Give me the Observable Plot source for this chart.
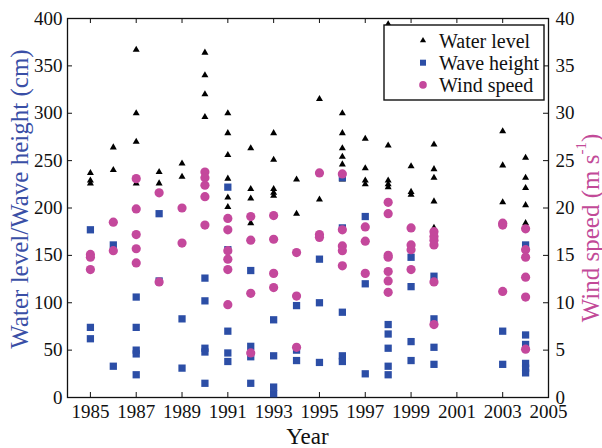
<!DOCTYPE html>
<html>
<head>
<meta charset="utf-8">
<script src="https://cdn.jsdelivr.net/npm/d3@7"></script>
<script src="https://cdn.jsdelivr.net/npm/@observablehq/plot@0.6"></script>
<style>
  body { margin: 0; background: #fff; }
</style>
</head>
<body>
<div id="chart"></div>
<script>
// Observation years and the storm-event values recorded in each year
const years = [1985, 1986, 1987, 1988, 1989, 1990, 1991, 1992, 1993, 1994,
               1995, 1996, 1997, 1998, 1999, 2000, 2003, 2004];

// Water level (cm)
const waterLevel = [
  [237, 229, 226],
  [264, 240],
  [367, 300, 270, 226],
  [238, 226],
  [247, 233],
  [364, 340, 320, 296],
  [300, 279, 256, 231, 211, 201],
  [263, 220, 210, 184],
  [279, 251, 220, 216, 213],
  [230, 194],
  [315, 209],
  [300, 279, 263, 254, 246, 236, 230],
  [273, 242, 229, 225],
  [394, 266, 229, 225, 222],
  [244, 217, 214],
  [267, 241, 232, 207, 179],
  [281, 245, 206],
  [253, 232, 221, 203, 184]
];

// Wave height (cm)
const waveHeight = [
  [177, 74, 62],
  [161, 33],
  [106, 74, 50, 46, 24],
  [194, 123],
  [83, 31],
  [126, 102, 52, 48, 15],
  [222, 156, 70, 47, 38],
  [134, 54, 43, 15],
  [82, 44, 11, 4],
  [97, 50, 39],
  [146, 100, 37],
  [232, 179, 90, 44, 38],
  [191, 120, 25],
  [77, 67, 52, 33, 24],
  [148, 117, 59, 39],
  [128, 83, 53, 35],
  [70, 35],
  [161, 66, 56, 36, 31, 26]
];

// Wind speed (m/s)
const windSpeed = [
  [15.1, 14.8, 13.5],
  [18.5, 15.5],
  [23.1, 19.9, 17.2, 15.7, 14.2],
  [21.6, 12.2],
  [20.0, 16.3],
  [23.8, 23.2, 22.4, 21.2, 18.2],
  [18.9, 17.7, 15.5, 14.6, 13.5, 9.8],
  [19.1, 16.6, 11.0, 4.7],
  [19.2, 16.7, 13.1, 11.6],
  [15.3, 10.7, 5.3],
  [23.7, 17.2, 16.9],
  [23.6, 17.7, 16.0, 15.5, 13.9],
  [18.0, 16.5, 13.1],
  [20.6, 19.4, 15.0, 14.8, 13.3, 12.3, 11.1],
  [17.9, 16.1, 15.6, 13.5],
  [17.5, 17.0, 16.6, 16.1, 12.2, 7.7],
  [18.4, 18.2, 11.2],
  [17.8, 15.6, 14.8, 12.7, 10.6, 5.1]
];

// Axis ticks
const xDomain = [1984, 2005];
const xTicks = d3.range(1985, 2006, 2);
const leftTicks = d3.range(0, 401, 50);     // cm
const rightTicks = d3.range(0, 41, 5);      // m/s
const leftMax = 400, rightMax = 40;
const windToLeft = leftMax / rightMax;      // wind values share the left scale

const legendItems = ["Water level", "Wave height", "Wind speed"];

const SERIF = '"Liberation Serif", "Times New Roman", Times, serif';
const BLUE = "#2c4ea6";
const MAGENTA = "#c4489c";
const LABEL_BLUE = "#3a4fa6";
const LABEL_MAGENTA = "#c24a98";

function rows(series, factor = 1) {
  return years.flatMap((year, i) => series[i].map(v => ({year, value: v * factor})));
}

const W = 602, H = 448;
const margin = {top: 18, right: 54, bottom: 51, left: 67};
const plotW = W - margin.left - margin.right;
const plotH = H - margin.top - margin.bottom;
const tickLen = 5;

// symbol sizes in px (Plot's r gives area π r²)
const triR = 2.6, sqR = 4.1, circR = 4.6;

const chart = Plot.plot({
  width: W,
  height: H,
  marginTop: margin.top,
  marginRight: margin.right,
  marginBottom: margin.bottom,
  marginLeft: margin.left,
  style: {fontSize: "19px", color: "#111", background: "#fff", overflow: "visible"},
  x: {domain: xDomain},
  y: {domain: [0, leftMax]},
  marks: [
    Plot.axisX(xTicks, {tickSize: 0, tickPadding: 7, tickFormat: d => String(d), label: null, fontSize: 19}),
    Plot.axisY(leftTicks, {anchor: "left", tickSize: 0, tickPadding: 5, label: null, fontSize: 19}),
    Plot.axisY(leftTicks, {anchor: "right", tickSize: 0, tickPadding: 7, label: null, fontSize: 19,
                           tickFormat: d => String(rightTicks[leftTicks.indexOf(d)])}),
    // inward tick marks on all four sides of the box
    Plot.tickX(xTicks, {x: d => d, insetTop: plotH - tickLen, stroke: "#111"}),
    Plot.tickX(xTicks, {x: d => d, insetBottom: plotH - tickLen, stroke: "#111"}),
    Plot.tickY(leftTicks, {y: d => d, insetRight: plotW - tickLen, stroke: "#111"}),
    Plot.tickY(leftTicks, {y: d => d, insetLeft: plotW - tickLen, stroke: "#111"}),
    Plot.frame({stroke: "#111", strokeWidth: 1.3}),
    Plot.dot(rows(waterLevel), {x: "year", y: "value", symbol: "triangle", r: triR, fill: "#000", stroke: null}),
    Plot.dot(rows(waveHeight), {x: "year", y: "value", symbol: "square", r: sqR, fill: BLUE, stroke: null}),
    Plot.dot(rows(windSpeed, windToLeft), {x: "year", y: "value", symbol: "circle", r: circR, fill: MAGENTA, stroke: null})
  ]
});

document.getElementById("chart").appendChild(chart);

const svg = d3.select(chart).attr("font-family", SERIF).style("font-family", SERIF);

// Axis titles
svg.append("text")
  .attr("transform", `translate(19,199) rotate(-90)`)
  .attr("text-anchor", "middle").attr("dominant-baseline", "central")
  .attr("font-size", 25).attr("fill", LABEL_BLUE)
  .text("Water level/Wave height (cm)");

const rt = svg.append("text")
  .attr("transform", `translate(590,228) rotate(-90)`)
  .attr("text-anchor", "middle").attr("dominant-baseline", "central")
  .attr("font-size", 25).attr("fill", LABEL_MAGENTA);
rt.append("tspan").text("Wind speed (m s");
rt.append("tspan").attr("font-size", 15).attr("dy", -9).text("-1");
rt.append("tspan").attr("dy", 9).text(")");

svg.append("text")
  .attr("x", margin.left + plotW / 2).attr("y", 444)
  .attr("text-anchor", "middle")
  .attr("font-size", 23).attr("fill", "#111")
  .text("Year");

// Legend box in the top-right corner of the plot
const lg = svg.append("g").attr("transform", `translate(${margin.left + plotW - 164},${margin.top + 7})`);
lg.append("rect").attr("width", 160).attr("height", 75)
  .attr("fill", "#fff").attr("stroke", "#111").attr("stroke-width", 1.4);
const legendSymbols = [
  {type: d3.symbolTriangle, r: 2.3, fill: "#000"},
  {type: d3.symbolSquare, r: 3.4, fill: BLUE},
  {type: d3.symbolCircle, r: 3.8, fill: MAGENTA}
];
legendItems.forEach((name, i) => {
  const y = 15.5 + i * 22.2;
  const s = legendSymbols[i];
  lg.append("path")
    .attr("transform", `translate(39,${y})`)
    .attr("d", d3.symbol(s.type, Math.PI * s.r * s.r)())
    .attr("fill", s.fill);
  lg.append("text")
    .attr("x", 55).attr("y", y)
    .attr("text-anchor", "start")
    .attr("dominant-baseline", "central")
    .attr("font-size", 20).attr("fill", "#111")
    .text(name);
});

// every label uses the serif face
svg.selectAll("text").attr("font-family", SERIF).style("font-family", SERIF);
</script>
</body>
</html>
